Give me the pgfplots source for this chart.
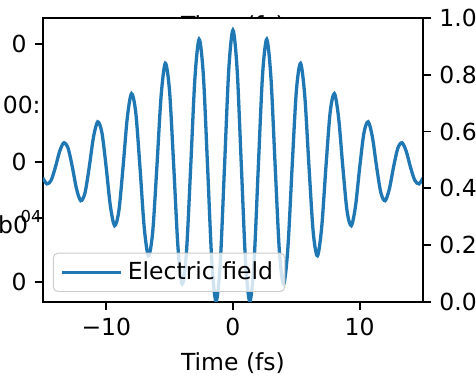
\documentclass[border=0pt]{standalone}
\usepackage{fontspec}
\setmainfont{DejaVu Sans}
\usepackage{pgfplots}
\pgfplotsset{compat=1.18}
\definecolor{mplblue}{RGB}{31,119,180}
\definecolor{legedge}{RGB}{204,204,204}
\begin{document}
\begin{tikzpicture}[font=\fontsize{10}{12}\selectfont]
% label of a hidden axis, mostly covered by the axis background
\node[anchor=base] at (80.85pt,114.3pt) {Time (fs)};
\begin{axis}[
  at={(0,0)}, anchor=south west,
  scale only axis, width=161.7pt, height=120.85pt,
  xmin=-15, xmax=15, ymin=0, ymax=1,
  axis background/.style={fill=white},
  axis line style={line width=0.8pt},
  tick align=outside,
  tick style={line width=0.8pt, black},
  major tick length=3.5pt,
  xtick={-10,0,10}, xticklabels={−10,0,10},
  xtick pos=bottom, ytick pos=left,
  ytick={0.0704,0.296,0.493,0.9085}, yticklabels={0,,0,0},
  xlabel={Time (fs)},
  clip mode=individual,
  legend style={at={(0.026,0.035)}, anchor=south west,
    fill=white, fill opacity=0.8, text opacity=1, draw=legedge, draw opacity=1,
    rounded corners=2pt, inner xsep=3pt, inner ysep=1.6pt,
    font=\fontsize{10}{12}\selectfont},
  legend cell align=left,
  legend image code/.code={\draw[#1] (0pt,0pt) -- (21pt,0pt); \path (0pt,0pt) -- (25.3pt,0pt);},
]
\addplot[mplblue, line width=1.4pt, smooth] coordinates {
(-15.019,0.4369) (-14.685,0.4156) (-14.351,0.4289) (-14.0175,0.475)
(-13.684,0.5303) (-13.35,0.5604) (-13.016,0.5408) (-12.6825,0.475)
(-12.349,0.3975) (-12.015,0.3563) (-11.681,0.3844) (-11.3475,0.475)
(-11.014,0.5800) (-10.68,0.6343) (-10.346,0.5956) (-10.0125,0.475)
(-9.679,0.3377) (-9.345,0.2685) (-9.011,0.3201) (-8.6775,0.475)
(-8.344,0.6484) (-8.01,0.7335) (-7.676,0.6674) (-7.3425,0.475)
(-7.009,0.2635) (-6.675,0.1623) (-6.341,0.2443) (-6.0075,0.475)
(-5.674,0.7243) (-5.34,0.8404) (-5.006,0.7422) (-4.6725,0.475)
(-4.339,0.1911) (-4.005,0.0625) (-3.671,0.1760) (-3.3375,0.475)
(-3.004,0.7872) (-2.67,0.9248) (-2.336,0.7982) (-2.0025,0.475)
(-1.669,0.1433) (-1.335,0.0013) (-1.001,0.1375) (-0.6675,0.475)
(-0.334,0.8155) (0,0.957)
(0.334,0.8155) (0.6675,0.475) (1.001,0.1375) (1.335,0.0013) (1.669,0.1433)
(2.0025,0.475) (2.336,0.7982) (2.67,0.9248) (3.004,0.7872)
(3.3375,0.475) (3.671,0.1760) (4.005,0.0625) (4.339,0.1911)
(4.6725,0.475) (5.006,0.7422) (5.34,0.8404) (5.674,0.7243)
(6.0075,0.475) (6.341,0.2443) (6.675,0.1623) (7.009,0.2635)
(7.3425,0.475) (7.676,0.6674) (8.01,0.7335) (8.344,0.6484)
(8.6775,0.475) (9.011,0.3201) (9.345,0.2685) (9.679,0.3377)
(10.0125,0.475) (10.346,0.5956) (10.68,0.6343) (11.014,0.5800)
(11.3475,0.475) (11.681,0.3844) (12.015,0.3563) (12.349,0.3975)
(12.6825,0.475) (13.016,0.5408) (13.35,0.5604) (13.684,0.5303)
(14.0175,0.475) (14.351,0.4289) (14.685,0.4156) (15.019,0.4369)
};
\addlegendentry{Electric field}
\node[anchor=east, inner sep=0pt] at (rel axis cs:0,0.694) [xshift=-0.8pt] {00:};
\node[anchor=east, inner sep=0pt] at (rel axis cs:0,0.272) [xshift=-6.2pt] {b0};
\node[anchor=east, inner sep=0pt, font=\fontsize{7}{8}\selectfont] at (rel axis cs:0,0.30) [xshift=-0.4pt] {04};
\end{axis}
\begin{axis}[
  at={(0,0)}, anchor=south west,
  scale only axis, width=161.7pt, height=120.85pt,
  xmin=-15, xmax=15, ymin=0, ymax=1,
  axis x line=none, axis y line*=right,
  axis line style={line width=0.8pt, -},
  tick align=outside,
  tick style={line width=0.8pt, black},
  major tick length=3.5pt,
  ytick={0,0.2,0.4,0.6,0.8,1.0},
  yticklabels={0.0,0.2,0.4,0.6,0.8,1.0},
]
\end{axis}
\pgfresetboundingbox
\path[use as bounding box] (-18.3pt,-31.5pt) rectangle (184.3pt,128.5pt);
\end{tikzpicture}
\end{document}
